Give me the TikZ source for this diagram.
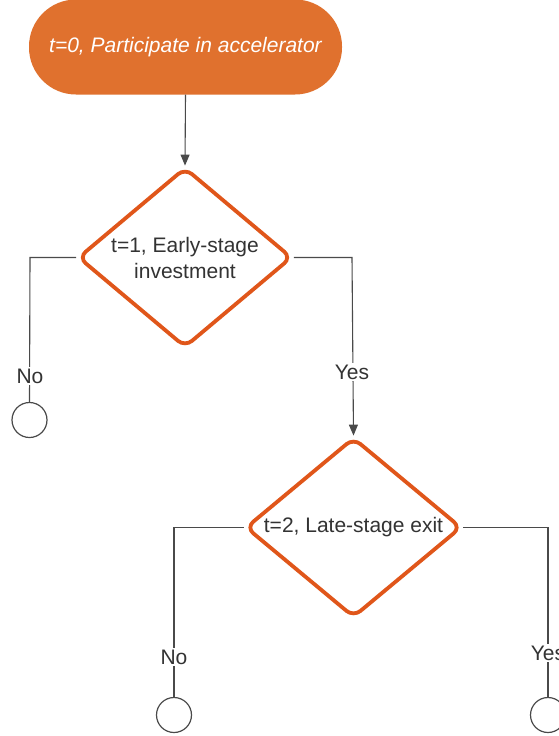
\documentclass[tikz,border=0pt]{standalone}
\usepackage{fontspec}
\setmainfont{Liberation Sans}
\usetikzlibrary{shapes.geometric,arrows.meta}
\definecolor{termfill}{HTML}{E0712E}
\definecolor{decline}{HTML}{E0561A}
\definecolor{conn}{HTML}{4A4A4A}
\definecolor{txt}{HTML}{333333}
\tikzset{
  term/.style={rectangle, rounded corners=47pt, fill=termfill, minimum width=313pt, minimum height=95pt, inner sep=0pt, text=white, font=\fontsize{21}{26}\selectfont\itshape},
  decision/.style={diamond, aspect=1.25, draw=decline, line width=3.8pt, rounded corners=9pt, fill=white, inner sep=0pt, text=txt, align=center, font=\fontsize{21}{26}\selectfont},
  endcircle/.style={circle, draw=conn, line width=1.2pt, minimum size=35pt, inner sep=0pt, fill=white},
  conline/.style={draw=conn, line width=1.1pt},
  arrowline/.style={conline, -{Triangle[length=11pt,width=9pt]}},
  lbl/.style={fill=white, inner sep=1.5pt, text=txt, font=\fontsize{21}{24}\selectfont}
}
\begin{document}
\begin{tikzpicture}[x=1pt,y=-1pt]
\clip (0,0) rectangle (559,736);
\fill[white] (0,0) rectangle (559,736);
\node[term] (start) at (185.5,47) {t=0, Participate in accelerator};
\node[decision, minimum width=214pt, minimum height=180pt] (d1) at (185,257.5) {t=1, Early-stage\\investment};
\node[decision, minimum width=216pt, minimum height=180pt] (d2) at (353.5,527.5) {t=2, Late-stage exit};
\node[endcircle] (c1) at (29.5,420) {};
\node[endcircle] (c2) at (174,715) {};
\node[endcircle] (c3) at (548,715) {};
\coordinate (k1) at (30,257.5);
\coordinate (k2) at (352,257.5);
\coordinate (k3) at (174,527.5);
\coordinate (k4) at (548,527.5);
\draw[arrowline] (start.south) -- (d1.north);
\draw[conline] (d1.west) -- (k1) -- (c1.north);
\draw[arrowline] (d1.east) -- (k2) -- (d2.north);
\draw[conline] (d2.west) -- (k3) -- (c2.north);
\draw[conline] (d2.east) -- (k4) -- (c3.north);
\node[lbl] (n1) at (30,376) {No};
\node[lbl] (y1) at (352,372) {Yes};
\node[lbl] (n2) at (174,657) {No};
\node[lbl] (y2) at (548,653) {Yes};
\end{tikzpicture}
\end{document}
